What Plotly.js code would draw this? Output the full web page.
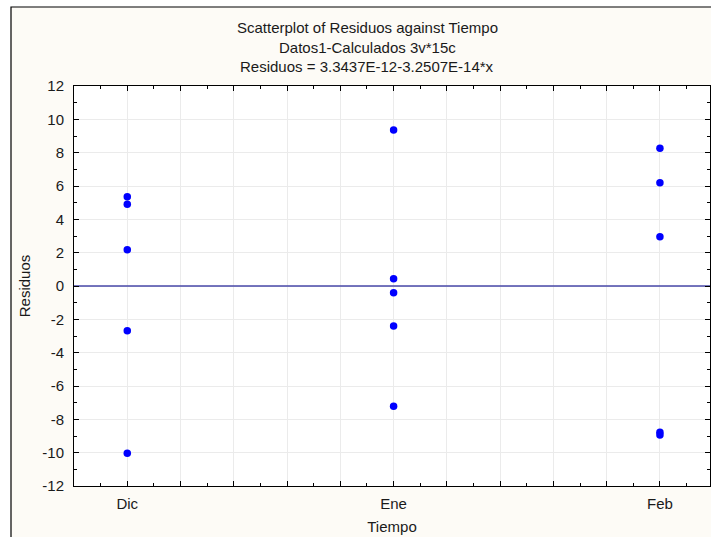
<!DOCTYPE html>
<html>
<head>
<meta charset="utf-8">
<script src="https://cdn.plot.ly/plotly-3.0.1.min.js"></script>
<style>html,body{margin:0;padding:0;background:#fff;}#chart{width:711px;height:537px;}</style>
</head>
<body>
<div id="chart"></div>
<script>
// Data
var categories = ["Dic", "Ene", "Feb"];
var categoryPos = [1, 2, 3];
var dicResid = [5.36, 4.9, 2.18, -2.68, -10.04];
var eneResid = [9.36, 0.44, -0.4, -2.4, -7.22];
var febResid = [8.26, 6.2, 2.96, -8.78, -8.94];
var fitIntercept = 3.3437E-12;
var fitSlope = -3.2507E-14;
var yTickVals = [-12, -10, -8, -6, -4, -2, 0, 2, 4, 6, 8, 10, 12];
var yTickText = ["-12", "-10", "-8", "-6", "-4", "-2", "0", "2", "4", "6", "8", "10", "12"];

var xRange = [0.8, 3.188];
var xs = [], ys = [];
[dicResid, eneResid, febResid].forEach(function (arr, i) {
  arr.forEach(function (v) { xs.push(categoryPos[i]); ys.push(v); });
});
var xTickVals = [], xTickText = [];
for (var k = 0; k <= 12; k++) {
  var v = Math.round((0.8 + 0.2 * k) * 10) / 10;
  xTickVals.push(v);
  var idx = categoryPos.indexOf(v);
  xTickText.push(idx >= 0 ? categories[idx] : "");
}

var font = {family: "Liberation Sans, Arial, sans-serif", size: 15, color: "#1a1a1a"};

var traces = [
  {
    x: xRange, y: xRange.map(function (x) { return fitIntercept + fitSlope * x; }),
    mode: "lines", line: {color: "#4848a8", width: 1.3}, hoverinfo: "skip", showlegend: false
  },
  {
    x: xs, y: ys, mode: "markers", type: "scatter",
    marker: {color: "#0000ff", size: 7.5}, showlegend: false
  }
];

var tx = (367 - 74) / 636;
function py(p) { return (486 - p) / 400; }

var layout = {
  width: 711, height: 537,
  margin: {l: 74, r: 1, t: 86, b: 51},
  paper_bgcolor: "#ffffff",
  plot_bgcolor: "rgba(0,0,0,0)",
  font: font,
  showlegend: false,
  annotations: [
    {text: "Scatterplot of Residuos against Tiempo", xref: "paper", yref: "paper",
     x: tx, y: py(27), xanchor: "center", yanchor: "middle", showarrow: false, font: font},
    {text: "Datos1-Calculados 3v*15c", xref: "paper", yref: "paper",
     x: tx, y: py(47), xanchor: "center", yanchor: "middle", showarrow: false, font: font},
    {text: "Residuos = 3.3437E-12-3.2507E-14*x", xref: "paper", yref: "paper",
     x: tx, y: py(67), xanchor: "center", yanchor: "middle", showarrow: false, font: font}
  ],
  shapes: [
    {type: "rect", xref: "paper", yref: "paper", layer: "below",
     x0: (11 - 74) / 636, x1: 1.2, y0: -0.3, y1: py(7),
     fillcolor: "#fdfbf6", line: {color: "#000000", width: 1.2}},
    {type: "rect", xref: "paper", yref: "paper", layer: "below",
     x0: 0, x1: 1, y0: 0, y1: 1, fillcolor: "#ffffff", line: {width: 0}}
  ],
  xaxis: {
    range: xRange, tickmode: "array", tickvals: xTickVals, ticktext: xTickText,
    ticks: "inside", ticklen: 5, tickcolor: "#000", tickwidth: 1,
    showgrid: true, gridcolor: "#ebebeb", gridwidth: 1,
    showline: true, linecolor: "#000", linewidth: 1, mirror: "ticks",
    zeroline: false, tickfont: font, ticklabelstandoff: 4,
    minor: {dtick: 0.1, tick0: 0.8, ticks: "inside", ticklen: 3, tickcolor: "#000", showgrid: false},
    title: {text: "Tiempo", font: font, standoff: 10}
  },
  yaxis: {
    range: [-12, 12], tickmode: "array", tickvals: yTickVals, ticktext: yTickText,
    ticks: "inside", ticklen: 5, tickcolor: "#000", tickwidth: 1,
    showgrid: true, gridcolor: "#ebebeb", gridwidth: 1,
    showline: true, linecolor: "#000", linewidth: 1, mirror: "ticks",
    zeroline: false, tickfont: font, ticklabelstandoff: 6,
    minor: {dtick: 1, tick0: 0, ticks: "inside", ticklen: 3, tickcolor: "#000", showgrid: false},
    title: {text: "Residuos", font: font, standoff: 8}
  }
};

Plotly.newPlot("chart", traces, layout, {displayModeBar: false, staticPlot: true});
</script>
</body>
</html>
